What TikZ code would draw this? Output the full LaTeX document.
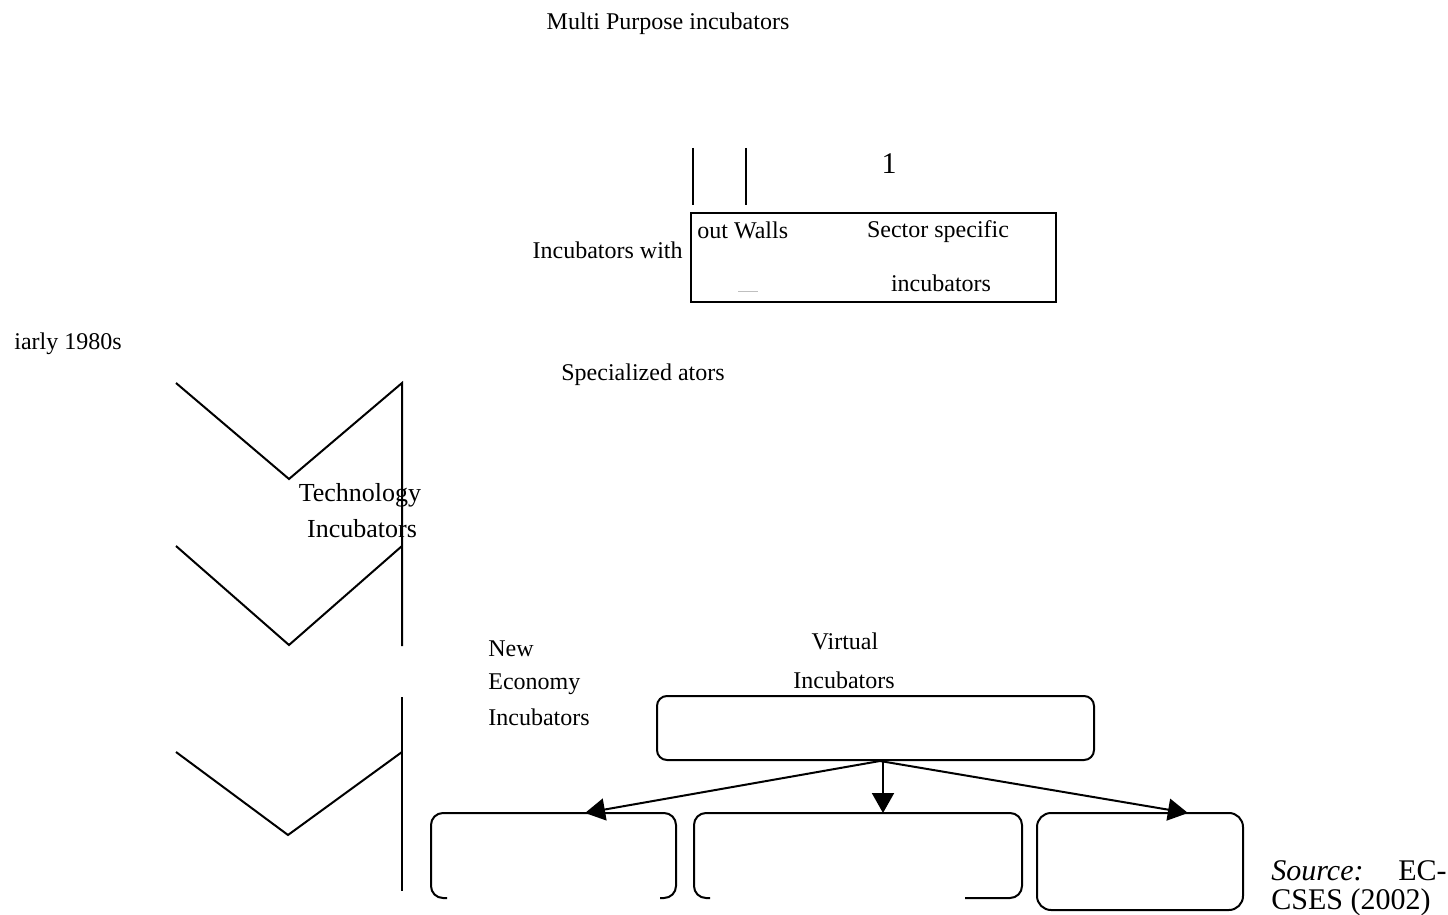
\documentclass[tikz,border=0pt]{standalone}
\usepackage{fontspec}
\setmainfont{Liberation Serif}
\usetikzlibrary{arrows.meta}
\tikzset{
  lbl/.style={inner sep=0pt, yshift=-1.3pt, font=\fontsize{12}{14}\selectfont},
  big/.style={inner sep=0pt, yshift=-1.3pt, font=\fontsize{15}{17}\selectfont},
  ln/.style={line width=1pt, black},
  arr/.style={line width=1pt, -{Triangle[length=10pt,width=11pt]}},
}
\begin{document}
\begin{tikzpicture}[x=0.5pt,y=-0.5pt]
\useasboundingbox (0,0) rectangle (1448,915);
% top texts
\node[lbl] (mp) at (668,21) {Multi Purpose incubators};
\node[big] (one) at (889,161) {1};
\coordinate (v1a) at (693,148); \coordinate (v1b) at (693,205);
\coordinate (v2a) at (746,148); \coordinate (v2b) at (746,205);
\draw[ln] (v1a) -- (v1b);
\draw[ln] (v2a) -- (v2b);
% sector box
\node[ln, draw, rectangle, minimum width=182.5pt, minimum height=44.5pt, inner sep=0pt] (sbox) at (873.5,257.5) {};
\node[lbl, anchor=east] (iw) at (683,248) {Incubators with};
\node[lbl, anchor=west] (ow) at (697,228) {out Walls};
\node[lbl] (ss) at (938,229) {Sector specific};
\node[lbl] (si) at (941,281) {incubators};
\coordinate (g1) at (738,292); \coordinate (g2) at (758,292);
\draw[line width=0.5pt, black!25] (g1) -- (g2);
% left texts
\node[lbl, anchor=west] (ea) at (14,341) {iarly 1980s};
\node[lbl, anchor=west] (sp) at (561,372) {Specialized ators};
% chevrons
\coordinate (c1a) at (176,383); \coordinate (c1b) at (289,479); \coordinate (c1c) at (402,383);
\coordinate (c2a) at (176,546); \coordinate (c2b) at (289,645); \coordinate (c2c) at (402,546);
\coordinate (c3a) at (176,752); \coordinate (c3b) at (288,835); \coordinate (c3c) at (402,752);
\coordinate (va) at (402,646); \coordinate (vb) at (402,697); \coordinate (vc) at (402,891);
\draw[ln] (c1a) -- (c1b) -- (c1c) -- (va);
\draw[ln] (c2a) -- (c2b) -- (c2c);
\draw[ln] (c3a) -- (c3b) -- (c3c);
\draw[ln] (vb) -- (vc);
\node[inner sep=0pt, yshift=-1pt, font=\fontsize{13}{15}\selectfont] (te) at (360,493) {Technology};
\node[inner sep=0pt, yshift=-0.5pt, font=\fontsize{13}{15}\selectfont] (ti) at (362,528) {Incubators};
% new economy
\node[lbl, anchor=west] (ne1) at (488,646) {New};
\node[lbl, anchor=west] (ne2) at (488,682) {Economy};
\node[lbl, anchor=west] (ne3) at (488,715) {Incubators};
\node[lbl] (vi1) at (845,639) {Virtual};
\node[lbl] (vi2) at (844,678) {Incubators};
% virtual box
\node[ln, draw, rectangle, rounded corners=5pt, minimum width=218.5pt, minimum height=32pt, inner sep=0pt] (vbox) at (875.5,728) {};
\coordinate (s) at (880,761);
\coordinate (s2) at (883,761);
\coordinate (e1) at (585,813);
\coordinate (e2) at (883,813);
\coordinate (e3) at (1188,813);
\draw[arr] (s) -- (e1);
\draw[arr] (s2) -- (e2);
\draw[arr] (s) -- (e3);
% bottom boxes
\draw[ln, rounded corners=6pt] (447,898) -- (431,898) -- (431,813) -- (676,813) -- (676,898) -- (660,898);
\draw[ln, rounded corners=6pt] (710,898) -- (694,898) -- (694,813) -- (1022,813) -- (1022,898) -- (965,898);
\node[ln, draw, rectangle, rounded corners=7pt, minimum width=103pt, minimum height=48.5pt, inner sep=0pt] (b3) at (1140,861.5) {};
% source
\node[big, anchor=west] (src) at (1271,868) {\itshape Source:};
\node[big, anchor=east] (ec) at (1447,868) {EC-};
\node[big, anchor=west] (cs) at (1271,900) {CSES (2002)};
\end{tikzpicture}
\end{document}
